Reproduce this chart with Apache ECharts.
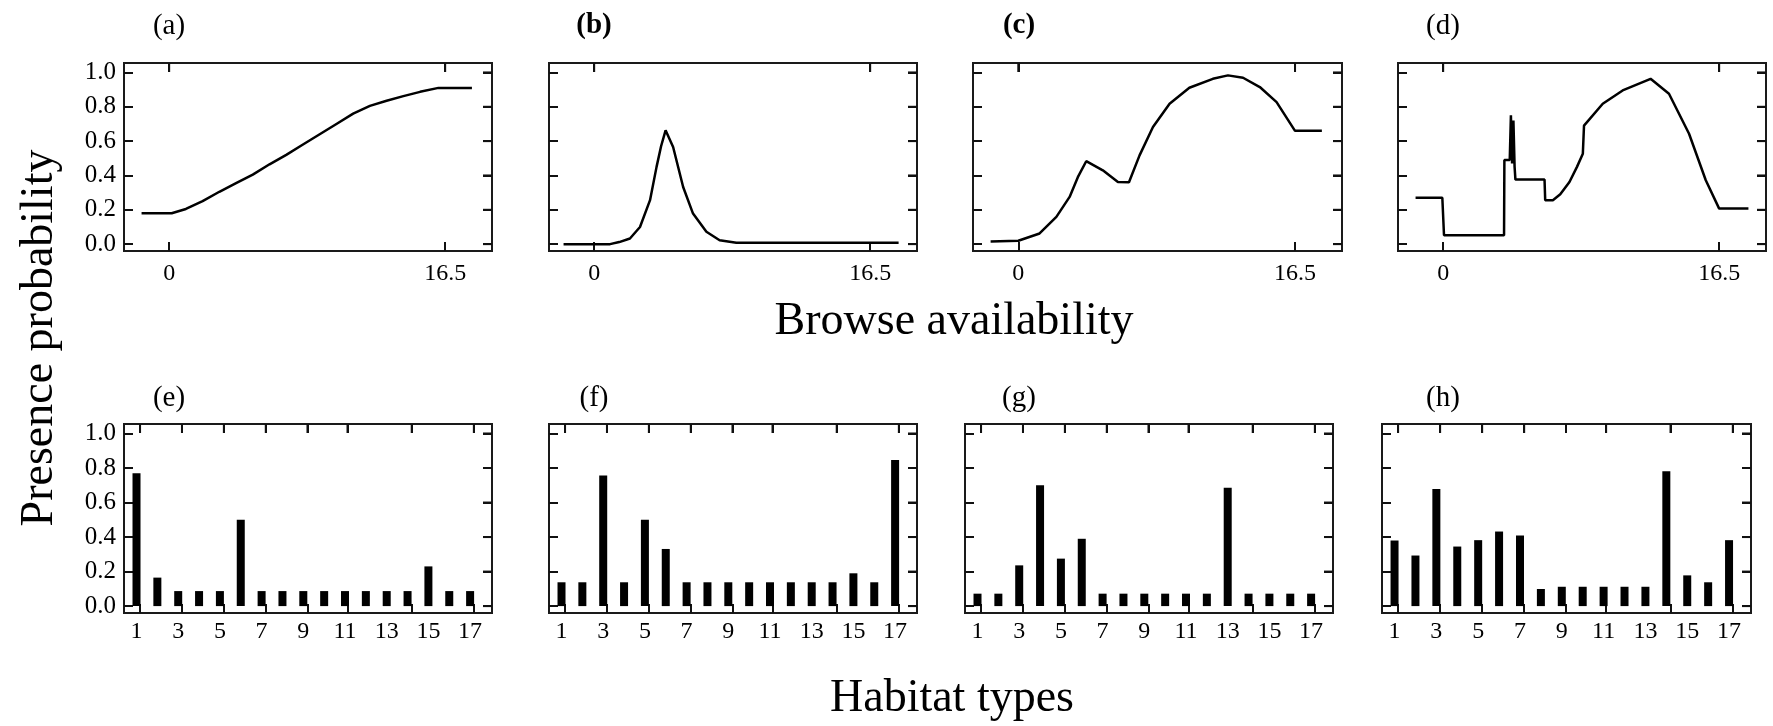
<!DOCTYPE html>
<html><head><meta charset="utf-8">
<script src="https://cdn.jsdelivr.net/npm/echarts@6/dist/echarts.min.js"></script>
<style>html,body{margin:0;padding:0;background:#fff}#c{width:1773px;height:726px}</style>
</head><body><div id="c"></div>
<script>
// ---- data ----
const aX = [-1.65, 0.15, 1, 2, 3, 4, 5, 6, 7, 8, 9, 10, 11, 12, 13, 14, 15, 16.1, 18.1];
const aY = [0.18, 0.18, 0.205, 0.25, 0.305, 0.355, 0.405, 0.465, 0.52, 0.58, 0.64, 0.70, 0.76, 0.805, 0.835, 0.862, 0.887, 0.91, 0.91];

const bX = [-1.83, 0.95, 1.5, 2.14, 2.74, 3.34, 3.73, 4.0, 4.27, 4.72, 5.32, 5.91, 6.71, 7.5, 8.5, 18.2];
const bY = [0.0, 0.0, 0.012, 0.033, 0.10, 0.256, 0.45, 0.57, 0.663, 0.566, 0.333, 0.178, 0.072, 0.023, 0.008, 0.008];

const cX = [-1.65, 0, 1.27, 2.27, 3.06, 3.55, 4.05, 5.04, 5.94, 6.6, 7.23, 8.03, 9.02, 10.2, 11.6, 12.5, 13.4, 14.4, 15.4, 16.5, 18.1];
const cY = [0.016, 0.02, 0.062, 0.159, 0.275, 0.39, 0.483, 0.43, 0.362, 0.36, 0.517, 0.682, 0.818, 0.911, 0.963, 0.983, 0.969, 0.915, 0.827, 0.66, 0.66];

const dX = [-1.65, -0.05, 0.05, 3.64, 3.66, 3.98, 4.05, 4.12, 4.2, 4.27, 4.32, 6.06, 6.1, 6.56, 7.0, 7.55, 8.0, 8.35, 8.42, 9.54, 10.73, 12.4, 13.5, 14.7, 15.7, 16.5, 18.25];
const dY = [0.27, 0.27, 0.052, 0.052, 0.49, 0.49, 0.75, 0.47, 0.72, 0.45, 0.376, 0.376, 0.256, 0.256, 0.29, 0.362, 0.45, 0.527, 0.69, 0.818, 0.895, 0.963, 0.876, 0.643, 0.372, 0.207, 0.207];

const habitats = [1, 2, 3, 4, 5, 6, 7, 8, 9, 10, 11, 12, 13, 14, 15, 16, 17];
const eVals = [0.77, 0.165, 0.087, 0.087, 0.087, 0.50, 0.087, 0.087, 0.087, 0.087, 0.087, 0.087, 0.087, 0.087, 0.23, 0.087, 0.087];
const fVals = [0.138, 0.138, 0.756, 0.138, 0.50, 0.331, 0.138, 0.138, 0.138, 0.138, 0.138, 0.138, 0.138, 0.138, 0.19, 0.138, 0.847];
const gVals = [0.072, 0.072, 0.236, 0.70, 0.275, 0.39, 0.072, 0.072, 0.072, 0.072, 0.072, 0.072, 0.686, 0.072, 0.072, 0.072, 0.072];
const hVals = [0.38, 0.293, 0.678, 0.345, 0.382, 0.432, 0.409, 0.099, 0.112, 0.112, 0.112, 0.112, 0.112, 0.781, 0.178, 0.138, 0.382];

const browseTicks = [0, 16.5];
const probTicks = [0, 0.2, 0.4, 0.6, 0.8, 1.0];
const habitatLabels = [1, 3, 5, 7, 9, 11, 13, 15, 17];
const habitatTicks = [1.17, 3.18, 5.19, 7.2, 9.2, 11.12, 14.2, 17.18];
const panelNames = ['(a)', '(b)', '(c)', '(d)', '(e)', '(f)', '(g)', '(h)'];
const xTitleTop = 'Browse availability';
const xTitleBottom = 'Habitat types';
const yTitle = 'Presence probability';

// ---- layout ----
const FONT = "'Liberation Serif', 'DejaVu Serif', serif";
const TICK = 9;
const gridPos = [
  [124, 63, 368, 188], [549, 63, 368, 188], [973, 63, 369, 188], [1398, 63, 368, 188],
  [124, 424, 368, 189], [549, 424, 368, 189], [965, 424, 368, 189], [1382, 424, 369, 189]
];
const labelX = [169, 594, 1019, 1443];

const grid = [], xAxis = [], yAxis = [], series = [];
const lines = [[aX, aY], [bX, bY], [cX, cY], [dX, dY]];
const bars = [eVals, fVals, gVals, hVals];

// mirror ticks on the top and right frame edges, placed through the axis scales
const topTickItem = (params, api) => {
  const cs = params.coordSys;
  const x = api.coord([api.value(0), api.value(1)])[0];
  return {type: 'line', shape: {x1: x, y1: cs.y, x2: x, y2: cs.y + TICK},
    style: {stroke: '#111', lineWidth: 2}};
};
const rightTickItem = (params, api) => {
  const cs = params.coordSys;
  const y = api.coord([api.value(0), api.value(1)])[1];
  const r = cs.x + cs.width;
  return {type: 'line', shape: {x1: r - TICK, y1: y, x2: r, y2: y},
    style: {stroke: '#111', lineWidth: 2}};
};

gridPos.forEach((g, i) => {
  grid.push({left: g[0], top: g[1], width: g[2], height: g[3], show: true,
    outerBoundsMode: 'none', borderColor: '#1a1a1a', borderWidth: 2});
  const isTop = i < 4;
  const xmin = isTop ? -2.7 : 0.4, xmax = isTop ? 19.3 : 18.05;
  const tickVals = isTop ? browseTicks : habitatTicks;
  const labVals = isTop ? browseTicks : habitatLabels;
  // primary axes (index 2i): bottom / left with labels
  // mirror axes (index 2i+1): top / right, ticks only
  ['bottom', 'top'].forEach((pos, k) => {
    xAxis.push({
      gridIndex: i, type: 'value', position: pos, min: xmin, max: xmax,
      axisLine: {show: false, onZero: false},
      splitLine: {show: false},
      axisTick: {show: true, inside: true, length: TICK, customValues: tickVals,
        lineStyle: {color: '#111', width: 2}},
      axisLabel: k === 0
        ? {show: true, customValues: labVals, margin: isTop ? 11 : 7,
           color: '#000', fontFamily: FONT, fontSize: 24, formatter: v => String(v)}
        : {show: true, customValues: tickVals, margin: 0, fontSize: 1, color: 'rgba(0,0,0,0)'}
    });
  });
  ['left', 'right'].forEach((pos, k) => {
    const showLab = k === 0 && (i === 0 || i === 4);
    yAxis.push({
      gridIndex: i, type: 'value', position: pos, min: -0.04, max: 1.055,
      axisLine: {show: false, onZero: false},
      splitLine: {show: false},
      axisTick: {show: true, inside: true, length: TICK, customValues: probTicks,
        lineStyle: {color: '#111', width: 2}},
      axisLabel: showLab
        ? {show: true, customValues: probTicks, margin: 8,
           color: '#000', fontFamily: FONT, fontSize: 25, formatter: v => v.toFixed(1)}
        : {show: k === 1, customValues: probTicks, margin: 0, fontSize: 1, color: 'rgba(0,0,0,0)'}
    });
  });
  let pts;
  if (isTop) {
    const [xs, ys] = lines[i];
    pts = xs.map((x, k) => [x, ys[k]]);
    series.push({type: 'line', xAxisIndex: 2 * i, yAxisIndex: 2 * i,
      showSymbol: false, symbol: 'none', smooth: false,
      lineStyle: {color: '#000', width: 2.5}, data: pts});
  } else {
    const vals = bars[i - 4];
    pts = habitats.map((h, k) => [h, vals[k]]);
    series.push({type: 'bar', xAxisIndex: 2 * i, yAxisIndex: 2 * i,
      barWidth: 8, itemStyle: {color: '#000'}, data: pts});
  }
  // the same data on the mirror axes, fully transparent, so those axes are laid out and drawn
  series.push({type: 'line', xAxisIndex: 2 * i + 1, yAxisIndex: 2 * i + 1,
    showSymbol: false, color: 'rgba(0,0,0,0)',
    lineStyle: {color: 'rgba(0,0,0,0)'}, data: pts});
  // mirror ticks also drawn through the primary scales
  series.push({type: 'custom', xAxisIndex: 2 * i, yAxisIndex: 2 * i, z: 10, clip: false,
    renderItem: topTickItem, data: tickVals.map(v => [v, probTicks[0]])});
  series.push({type: 'custom', xAxisIndex: 2 * i, yAxisIndex: 2 * i, z: 10, clip: false,
    renderItem: rightTickItem, data: probTicks.map(v => [tickVals[0], v])});
});

const graphic = [];
panelNames.forEach((name, i) => {
  graphic.push({type: 'text', x: labelX[i % 4], y: i < 4 ? 26 : 398,
    style: {text: name, fontFamily: FONT, fontSize: 29, fontWeight: (i === 1 || i === 2) ? 'bold' : 'normal',
      fill: '#000', textAlign: 'center', textVerticalAlign: 'middle'}});
});
graphic.push({type: 'text', x: 954, y: 322,
  style: {text: xTitleTop, fontFamily: FONT, fontSize: 46, fill: '#000', textAlign: 'center', textVerticalAlign: 'middle'}});
graphic.push({type: 'text', x: 952, y: 699,
  style: {text: xTitleBottom, fontFamily: FONT, fontSize: 46, fill: '#000', textAlign: 'center', textVerticalAlign: 'middle'}});
graphic.push({type: 'text', x: 40, y: 338, rotation: Math.PI / 2,
  style: {text: yTitle, fontFamily: FONT, fontSize: 46, fill: '#000', textAlign: 'center', textVerticalAlign: 'middle'}});

const chart = echarts.init(document.getElementById('c'), null, {renderer: 'canvas'});
chart.setOption({animation: false, backgroundColor: '#fff', grid, xAxis, yAxis, series, graphic});
</script></body></html>
